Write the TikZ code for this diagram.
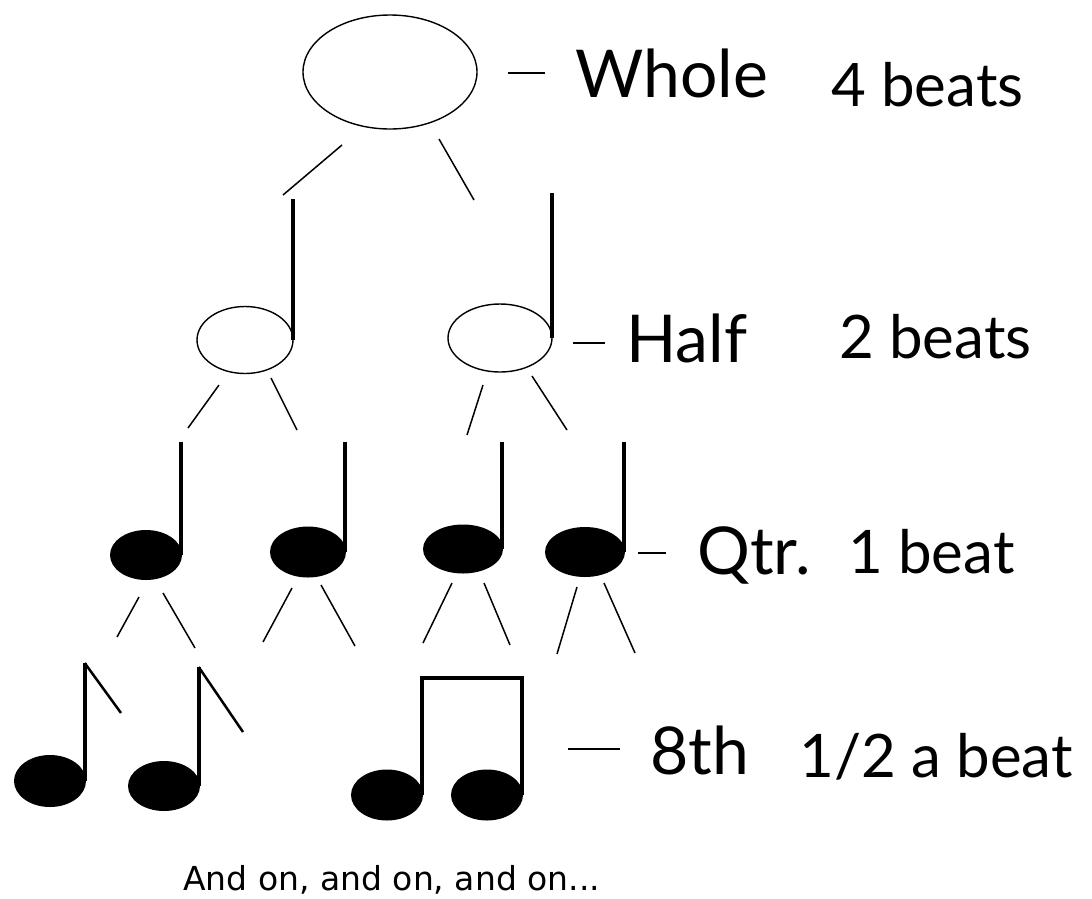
\documentclass[tikz,border=0pt]{standalone}
\usepackage{fontspec}
\setmainfont{Lato}
\newfontfamily\tailfont{DejaVu Sans}
\usetikzlibrary{shapes.geometric}

\begin{document}
\begin{tikzpicture}[x=1pt, y=-1pt,
        openhead/.style={draw, ellipse, line width=1.4pt, inner sep=0pt},
        filledhead/.style={fill, ellipse, inner sep=0pt},
        stem/.style={line width=4pt},
        flag/.style={line width=2.5pt},
        branch/.style={line width=1.5pt},
        tick/.style={line width=2pt},
        notename/.style={anchor=base west, inner sep=0pt, font=\fontsize{66}{70}\selectfont},
        beatcount/.style={anchor=base west, inner sep=0pt, font=\fontsize{60}{66}\selectfont}]
        \useasboundingbox (0,0) rectangle (1092,898);

        % whole note
        \node [openhead, minimum width=174pt, minimum height=114pt] (w) at (390,72) {};
        \draw [tick] (508,73) -- (545,73);
        \node [notename] (whole) at (575,97) {Whole};
        \node [beatcount] (b4) at (831,106) {4 beats};
        \draw [branch] (342,145) -- (283,195);
        \draw [branch] (439,139) -- (474,200);

        % half notes
        \node [openhead, minimum width=96pt, minimum height=67pt] (h1) at (245,340) {};
        \node [openhead, minimum width=104pt, minimum height=68pt] (h2) at (500,338) {};
        \draw [stem] ([xshift=-1pt]h1.east) -- ++(0,-141);
        \draw [stem] ([xshift=-1pt]h2.east) -- ++(0,-145);
        \draw [tick] (573,343) -- (605,343);
        \node [notename] (half) at (626,362) {Half};
        \node [beatcount] (b2) at (839,358) {2 beats};
        \draw [branch] (219,385) -- (188,428);
        \draw [branch] (271,378) -- (297,430);
        \draw [branch] (483,385) -- (467,435);
        \draw [branch] (532,376) -- (567,430);

        % quarter notes
        \node [filledhead, minimum width=72pt, minimum height=50pt] (q1) at (146,555) {};
        \node [filledhead, minimum width=76pt, minimum height=51pt] (q2) at (308,552) {};
        \node [filledhead, minimum width=80pt, minimum height=49pt] (q3) at (463,549) {};
        \node [filledhead, minimum width=80pt, minimum height=50pt] (q4) at (585,552) {};
        \draw [stem] ([xshift=-1.5pt]q1.east) -- ++(0,-113);
        \draw [stem] ([xshift=-1.5pt]q2.east) -- ++(0,-110);
        \draw [stem] ([xshift=-1.5pt]q3.east) -- ++(0,-107);
        \draw [stem] ([xshift=-1.5pt]q4.east) -- ++(0,-110);
        \draw [tick] (638,553) -- (666,553);
        \node [notename] (qtr) at (697,574) {Qtr.};
        \node [beatcount] (b1) at (848,573) {1 beat};
        \draw [branch] (139,597) -- (117,637);
        \draw [branch] (163,593) -- (195,648);
        \draw [branch] (292,588) -- (263,642);
        \draw [branch] (321,585) -- (355,646);
        \draw [branch] (452,583) -- (423,643);
        \draw [branch] (484,583) -- (510,645);
        \draw [branch] (577,587) -- (557,654);
        \draw [branch] (604,583) -- (635,653);

        % eighth notes
        \node [filledhead, minimum width=72pt, minimum height=52pt] (e1) at (50,781) {};
        \node [filledhead, minimum width=72pt, minimum height=50pt] (e2) at (164,786) {};
        \node [filledhead, minimum width=72pt, minimum height=51pt] (e3) at (387,795) {};
        \node [filledhead, minimum width=72pt, minimum height=51pt] (e4) at (487,795) {};
        \draw [stem] ([xshift=-1.5pt]e1.east) -- ++(0,-118) coordinate (f1);
        \draw [flag] (f1) -- (121,713);
        \draw [stem] ([xshift=-1.5pt]e2.east) -- ++(0,-119) coordinate (f2);
        \draw [flag] (f2) -- (243,732);
        \draw [stem] ([xshift=-1.5pt]e3.east) -- ++(0,-117) coordinate (s3);
        \draw [stem] ([xshift=-1.5pt]e4.east) -- ++(0,-117) coordinate (s4);
        \draw [stem] ([xshift=-2pt]s3) -- ([xshift=2pt]s4);
        \draw [tick] (568,749) -- (620,749);
        \node [notename] (eighth) at (650,774) {8th};
        \node [beatcount] (bhalf) at (799,777) {1/2 a beat};

        \node [anchor=base west, inner sep=0pt, font=\tailfont\fontsize{33}{37}\selectfont] (more) at (183,890) {And on, and on, and on...};
    \end{tikzpicture}
\end{document}
